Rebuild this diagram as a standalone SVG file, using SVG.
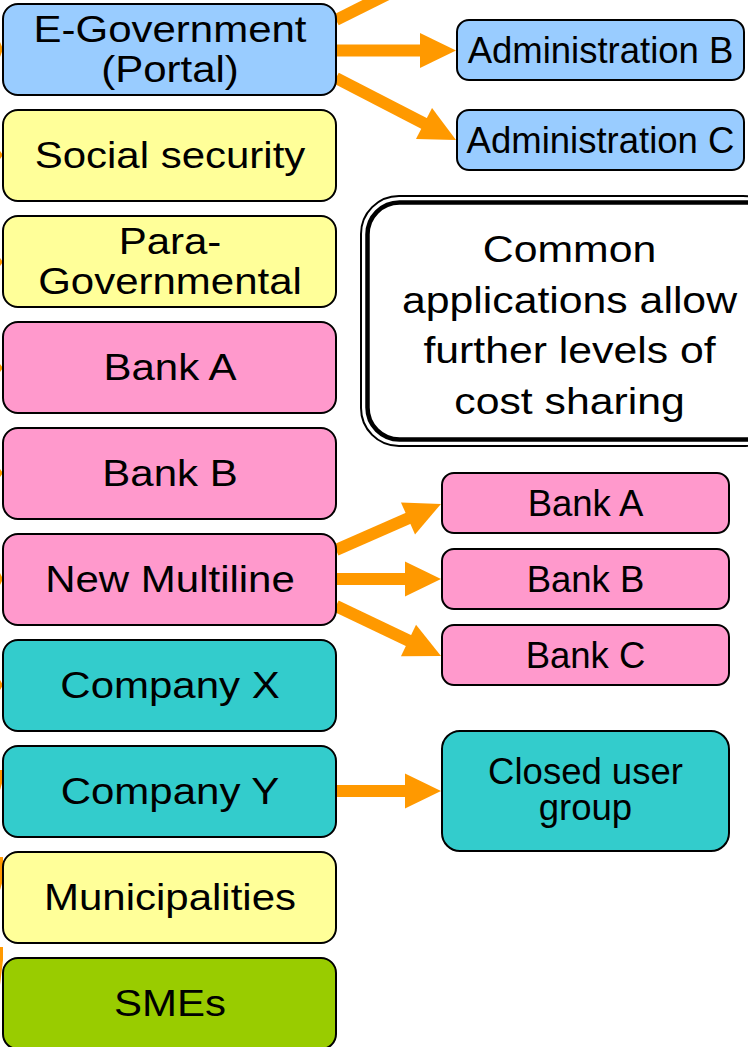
<svg xmlns="http://www.w3.org/2000/svg" width="748" height="1047" viewBox="0 0 748 1047">
<style>
.box{stroke:#000;stroke-width:2}
.blue{fill:#99CCFF}.yellow{fill:#FFFF99}.pink{fill:#FF99CC}.teal{fill:#33CCCC}.green{fill:#99CC00}
.t{font-family:"Liberation Sans",Arial,sans-serif;fill:#000;text-anchor:middle}
.tl{font-size:37.5px}
.tr{font-size:36.5px}
.shaft{stroke:#FF9900;stroke-width:12;fill:none}
.stub{fill:#FF9900}
</style>
<defs>
<marker id="ah" markerUnits="userSpaceOnUse" viewBox="0 -18 36 36" markerWidth="36" markerHeight="36" refX="0" refY="0" orient="auto" overflow="visible">
<path d="M-1,-17.5 L35,0 L-1,17.5 Z" fill="#FF9900"/>
</marker>
</defs>
<rect width="748" height="1047" fill="#fff"/>

<g id="connectors">
<line class="shaft" x1="336" y1="20" x2="400" y2="-12"/>
<line class="shaft" x1="336" y1="50.5" x2="421" y2="50.5" marker-end="url(#ah)"/>
<line class="shaft" x1="336" y1="78" x2="424.9" y2="123.9" marker-end="url(#ah)"/>
<line class="shaft" x1="336" y1="550" x2="408.9" y2="518" marker-end="url(#ah)"/>
<line class="shaft" x1="336" y1="579" x2="406" y2="579" marker-end="url(#ah)"/>
<line class="shaft" x1="336" y1="606" x2="409.4" y2="641" marker-end="url(#ah)"/>
<line class="shaft" x1="336" y1="791" x2="406" y2="791" marker-end="url(#ah)"/>
<polygon class="stub" points="0,42 3,49 0,57"/>
<polygon class="stub" points="0,151 3,155 0,159"/>
<polygon class="stub" points="0,258 3,262 0,266"/>
<polygon class="stub" points="0,364 3,368 0,372"/>
<polygon class="stub" points="0,469 3,473 0,477"/>
<polygon class="stub" points="0,573 3,579 0,585"/>
<polygon class="stub" points="0,680 3,685 0,690"/>
<polygon class="stub" points="0,770 3,770 3,780 0,790"/>
<polygon class="stub" points="0,857 3,857 3,880 0,890"/>
<polygon class="stub" points="0,947 3,947 3,960 0,985"/>
</g>

<g id="egov"><rect class="box blue" x="3" y="4" width="333" height="91" rx="15"/>
<text class="t tl" transform="translate(170 0) scale(1.12 1)" x="0" y="42.5">E-Government</text>
<text class="t tl" transform="translate(170 0) scale(1.12 1)" x="0" y="82.5">(Portal)</text></g>

<g id="social"><rect class="box yellow" x="3" y="110" width="333" height="91" rx="15"/>
<text class="t tl" transform="translate(170 0) scale(1.12 1)" x="0" y="168.5">Social security</text></g>

<g id="paragov"><rect class="box yellow" x="3" y="216" width="333" height="91" rx="15"/>
<text class="t tl" transform="translate(170 0) scale(1.12 1)" x="0" y="254.5">Para-</text>
<text class="t tl" transform="translate(170 0) scale(1.12 1)" x="0" y="294.5">Governmental</text></g>

<g id="bankA_left"><rect class="box pink" x="3" y="322" width="333" height="91" rx="15"/>
<text class="t tl" transform="translate(170 0) scale(1.12 1)" x="0" y="380.5">Bank A</text></g>

<g id="bankB_left"><rect class="box pink" x="3" y="428" width="333" height="91" rx="15"/>
<text class="t tl" transform="translate(170 0) scale(1.12 1)" x="0" y="486.5">Bank B</text></g>

<g id="multiline"><rect class="box pink" x="3" y="534" width="333" height="91" rx="15"/>
<text class="t tl" transform="translate(170 0) scale(1.12 1)" x="0" y="592.5">New Multiline</text></g>

<g id="companyX"><rect class="box teal" x="3" y="640" width="333" height="91" rx="15"/>
<text class="t tl" transform="translate(170 0) scale(1.12 1)" x="0" y="698.5">Company X</text></g>

<g id="companyY"><rect class="box teal" x="3" y="746" width="333" height="91" rx="15"/>
<text class="t tl" transform="translate(170 0) scale(1.12 1)" x="0" y="804.5">Company Y</text></g>

<g id="municipalities"><rect class="box yellow" x="3" y="852" width="333" height="91" rx="15"/>
<text class="t tl" transform="translate(170 0) scale(1.12 1)" x="0" y="910.5">Municipalities</text></g>

<g id="smes"><rect class="box green" x="3" y="958" width="333" height="91" rx="15"/>
<text class="t tl" transform="translate(170 0) scale(1.12 1)" x="0" y="1016.5">SMEs</text></g>

<g id="adminB"><rect class="box blue" x="457" y="20" width="287" height="60" rx="12"/>
<text class="t tr" x="600.5" y="63">Administration B</text></g>

<g id="adminC"><rect class="box blue" x="457" y="110" width="287" height="60" rx="12"/>
<text class="t tr" x="600.5" y="153">Administration C</text></g>

<g id="note">
<rect x="361" y="196" width="420" height="250" rx="38" fill="#fff" stroke="#000" stroke-width="2"/>
<rect x="367.5" y="202.5" width="410" height="237" rx="32" fill="none" stroke="#000" stroke-width="4.5"/>
<g class="t tl" transform="translate(569.5 0) scale(1.14 1)">
<text x="0" y="262">Common</text>
<text x="0" y="313">applications allow</text>
<text x="0" y="363.5">further levels of</text>
<text x="0" y="414">cost sharing</text>
</g>
</g>

<g id="bankA_right"><rect class="box pink" x="442" y="473" width="287" height="60" rx="12"/>
<text class="t tr" x="585.5" y="515.5">Bank A</text></g>

<g id="bankB_right"><rect class="box pink" x="442" y="549" width="287" height="60" rx="12"/>
<text class="t tr" x="585.5" y="591.5">Bank B</text></g>

<g id="bankC_right"><rect class="box pink" x="442" y="625" width="287" height="60" rx="12"/>
<text class="t tr" x="585.5" y="667.5">Bank C</text></g>

<g id="closed"><rect class="box teal" x="442" y="731" width="287" height="120" rx="18"/>
<text class="t tr" x="585.5" y="784">Closed user</text>
<text class="t tr" x="585.5" y="820">group</text></g>
</svg>
